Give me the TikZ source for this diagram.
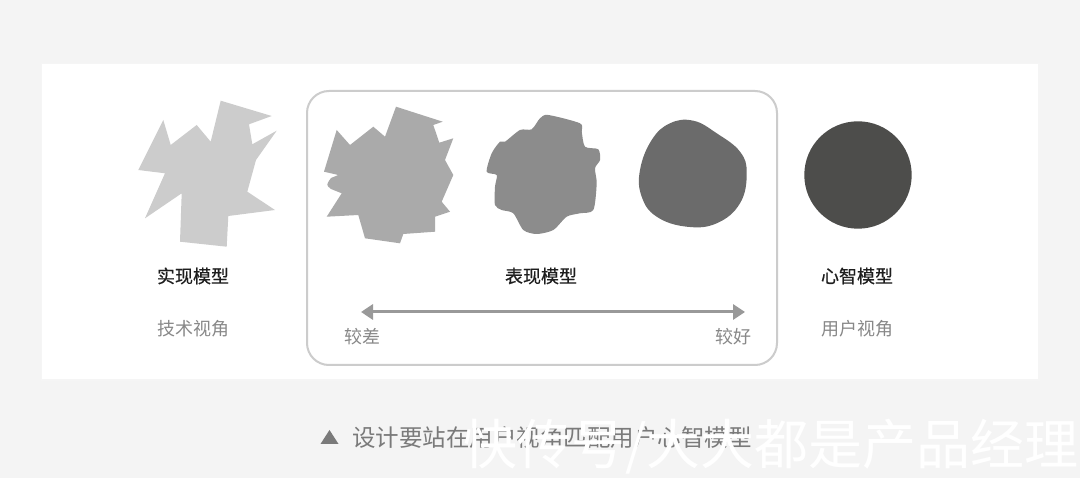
\documentclass[tikz,border=0pt]{standalone}
\usepackage{fontspec}
\newfontfamily\cjk{Noto Sans CJK SC}
\newfontfamily\cjkm[FakeBold=0.6]{Noto Sans CJK SC}
\usetikzlibrary{arrows.meta}
\definecolor{bgc}{HTML}{F4F4F4}
\definecolor{sA}{HTML}{CCCCCC}
\definecolor{sB}{HTML}{AAAAAA}
\definecolor{sC}{HTML}{8C8C8C}
\definecolor{sD}{HTML}{6B6B6B}
\definecolor{sE}{HTML}{4D4D4B}
\definecolor{frame}{HTML}{CCCCCC}
\definecolor{titlec}{HTML}{1E1E1E}
\definecolor{subc}{HTML}{888888}
\definecolor{arrc}{HTML}{999999}
\definecolor{capc}{HTML}{7A7A7A}
\tikzset{
  title/.style={font=\cjkm\fontsize{18}{20}\selectfont, text=titlec, inner sep=0pt},
  sub/.style={font=\cjk\fontsize{18}{20}\selectfont, text=subc, inner sep=0pt},
}
\begin{document}
\begin{tikzpicture}[x=1pt,y=-1pt]
\useasboundingbox (0,0) rectangle (1080,478);
\fill[bgc] (0,0) rectangle (1080,478);
% card shadow and card
\fill[black!4] (41,63) rectangle (1040,381);
\fill[white] (42,64) rectangle (1038,379);
% rounded frame
\draw[frame, line width=2pt, rounded corners=22pt] (307,91) rectangle (777,365);
% shape 1
\fill[sA] (220.7,100.7) -- (271.7,116) -- (249,124.3) -- (252.3,144.3) -- (276.7,130.7) -- (256,160) -- (247.3,191.7) -- (275,210) -- (228.3,216) -- (226.7,246.7) -- (180,241.7) -- (181.7,193.3) -- (145,218.3) -- (165,173.3) -- (138.3,170) -- (163.3,120) -- (170.7,145) -- (196.7,125) -- (210.7,141.7) -- cycle;
% shape 2
\fill[sB] (396,106.7) -- (442.7,121.7) -- (433.3,125) -- (439.3,142.7) -- (453.3,138.3) -- (445,160) -- (453.3,175) -- (441.7,201.7) -- (450,211.7) -- (435,216.7) -- (435,231.7) -- (403.3,234) -- (400,243.3) -- (365,238.3) -- (358.3,215) -- (326.7,216.7) -- (341.7,193.3) -- (331,189) .. controls (326,185) .. (331,178) -- (338.3,175) -- (324,171.7) -- (336.7,130) -- (350,145) -- (373.3,126.7) -- (385,136.7) -- cycle;
% shape 3
\fill[sC] plot[smooth cycle, tension=0.45] coordinates {(548.3,115) (580,123.3) (581.7,131.7) (585,146.7) (598.3,149.3) (600,160) (595,168.3) (596.7,183.3) (593.3,210) (580,213.3) (566.7,216.7) (553.3,230) (536.7,234) (523.3,230) (513.3,213.3) (501.7,210) (495,205) (495,186.7) (496.7,175) (486.7,171.7) (491.7,153.3) (500,141.7) (505,141.7) (520,130) (531.7,129.3) (540,118.3)};
% shape 4
\fill[sD] plot[smooth cycle, tension=0.7] coordinates {(693.3,120.7) (716.7,133.3) (740,151.7) (746.7,173.3) (740,203.3) (716.7,223.3) (686.7,226.7) (656.7,216.7) (641.7,196.7) (640,170) (651.7,140) (670,123.3)};
% circle
\fill[sE] (858,175) circle (53.7);
% labels
\node[title] (t1) at (193,276) {实现模型};
\node[sub] (s1) at (193,329) {技术视角};
\node[title] (t2) at (541,276) {表现模型};
\node[title] (t3) at (857,276) {心智模型};
\node[sub] (s3) at (857,329) {用户视角};
\node[sub] (lo) at (362,337) {较差};
\node[sub] (hi) at (733,337) {较好};
\coordinate (aL) at (361,312);
\coordinate (aR) at (745,312);
\draw[arrc, line width=3pt, {Triangle[length=12pt,width=15pt]}-{Triangle[length=12pt,width=15pt]}] (aL) -- (aR);
% caption
\fill[capc] (320.5,444) -- (338.5,444) -- (329.5,430) -- cycle;
\node[anchor=west, font=\cjk\fontsize{23.5}{26}\selectfont, text=capc, inner sep=0pt] (cap) at (352,438) {设计要站在用户视角匹配用户心智模型};
\node[anchor=west, font=\cjk\fontsize{54}{58}\selectfont, text=white, inner sep=0pt] (wm) at (463,447) {快传号/大大都是产品经理};
\end{tikzpicture}
\end{document}
